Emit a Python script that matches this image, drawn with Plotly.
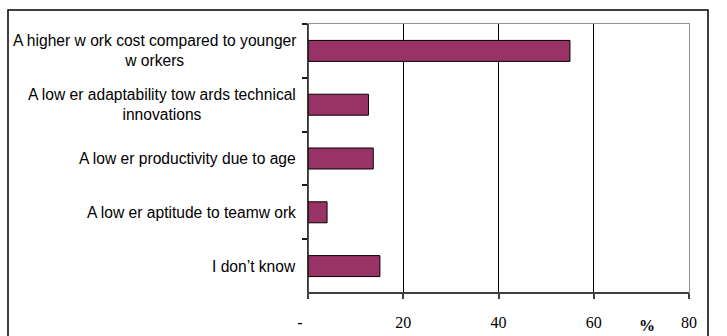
import plotly.graph_objects as go

# Survey answers (percent of respondents)
categories = [
    "A higher w ork cost compared to younger<br>w orkers",
    "A low er adaptability tow ards technical<br>innovations",
    "A low er productivity due to age",
    "A low er aptitude to teamw ork",
    "I don’t know",
]
values = [55.0, 12.7, 13.7, 4.0, 15.1]
x_ticks = [0, 20, 40, 60, 80]
x_tick_labels = ["-\u00a0\u00a0\u00a0\u00a0", "20", "40", "60", "80"]

SERIF = "Liberation Serif"
SANS = "Liberation Sans"

W, H = 727, 336
L, R, T, B = 308, 38, 24, 43

fig = go.Figure()
fig.add_trace(go.Bar(
    y=categories,
    x=values,
    orientation="h",
    marker=dict(color="#993366", line=dict(color="#000000", width=1)),
    hoverinfo="x+y",
))

# Category labels drawn as centred text blocks to the left of the axis
annotations = [
    dict(x=0, xref="paper", y=c, yref="y", text=c, showarrow=False,
         xanchor="right", yanchor="middle", align="center", xshift=-10,
         font=dict(family=SANS, size=15.6, color="#000000"))
    for c in categories
]
pw, ph = W - L - R, H - T - B
annotations.append(dict(
    x=(646.7 - L) / pw, xref="paper", y=-(325 - (H - B)) / ph, yref="paper",
    text="<b>%</b>", showarrow=False, xanchor="center", yanchor="middle",
    font=dict(family=SERIF, size=16, color="#000000"),
))

shapes = [
    # outer chart frame
    dict(type="rect", xref="paper", yref="paper",
         x0=(8 - L) / pw, x1=(708 - L) / pw,
         y0=-(360 - (H - B)) / ph, y1=1 + (T - 10) / ph,
         line=dict(color="#000000", width=1.5), layer="below"),
    # darker left and bottom axis lines
    dict(type="line", xref="paper", yref="paper", x0=0, x1=0, y0=0, y1=1,
         line=dict(color="#1a1a1a", width=1.5)),
    dict(type="line", xref="paper", yref="paper", x0=0, x1=1, y0=0, y1=0,
         line=dict(color="#404040", width=2)),
]

fig.update_layout(
    width=W, height=H,
    margin=dict(l=L, r=R, t=T, b=B, autoexpand=False),
    paper_bgcolor="#ffffff", plot_bgcolor="#ffffff",
    showlegend=False,
    bargap=0.61,
    annotations=annotations,
    shapes=shapes,
    xaxis=dict(
        range=[0, 80], tickvals=x_ticks, ticktext=x_tick_labels,
        showgrid=True, gridcolor="#000000", gridwidth=1,
        showline=True, mirror=True, linecolor="#909090", linewidth=1,
        ticks="outside", ticklen=5, tickcolor="#404040", tickwidth=1.5,
        ticklabelstandoff=10, automargin=False,
        tickfont=dict(family=SERIF, size=16, color="#000000"),
        zeroline=False, fixedrange=True,
    ),
    yaxis=dict(
        autorange="reversed", showticklabels=False, automargin=False,
        showline=True, mirror=True, linecolor="#909090", linewidth=1,
        ticks="outside", ticklen=5, tickcolor="#1a1a1a", tickwidth=1.5,
        tickson="boundaries", showgrid=False, zeroline=False, fixedrange=True,
    ),
)

fig.write_html("out.html", config={"displayModeBar": False})
